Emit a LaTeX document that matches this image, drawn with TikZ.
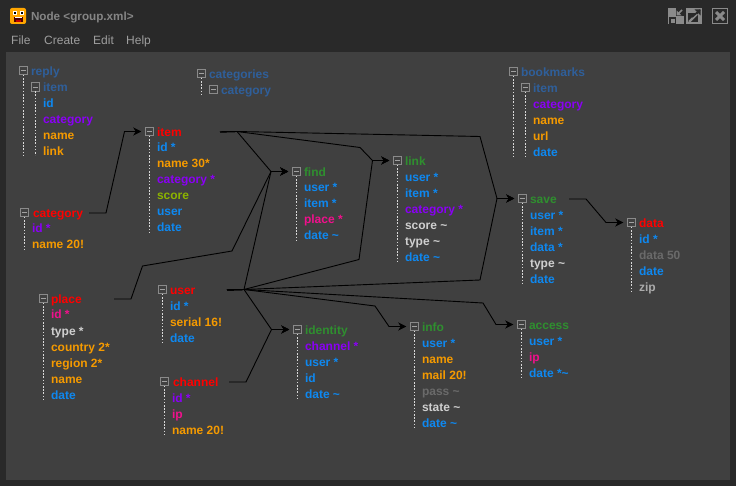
\documentclass[tikz,border=0pt]{standalone}
\usepackage{fontspec}
\setmainfont{Liberation Sans}
\usetikzlibrary{arrows.meta}
\definecolor{winbg}{HTML}{292929}
\definecolor{canvasbg}{HTML}{404040}
\definecolor{cblue}{HTML}{0E88F0}
\definecolor{cpurple}{HTML}{8A00F5}
\definecolor{corange}{HTML}{F59A00}
\definecolor{cpink}{HTML}{F0108C}
\definecolor{cwhite}{HTML}{CFCFCF}
\definecolor{cdim}{HTML}{6A6A6A}
\definecolor{czip}{HTML}{ABABAB}
\definecolor{cgreen}{HTML}{2F8F2F}
\definecolor{cred}{HTML}{FF0000}
\definecolor{csteel}{HTML}{2F5F9A}
\definecolor{clime}{HTML}{8CB400}
\definecolor{cframe}{HTML}{8A8A8A}
\newcommand{\tl}{\textasciitilde}
\tikzset{
  x=1pt,y=-1pt,
  lbl/.style={anchor=west,inner sep=0pt,outer sep=0pt,text height=9pt,text depth=0pt,font=\bfseries\fontsize{12}{14}\selectfont},
  fblue/.style={lbl,text=cblue},
  fpurple/.style={lbl,text=cpurple},
  forange/.style={lbl,text=corange},
  fpink/.style={lbl,text=cpink},
  fwhite/.style={lbl,text=cwhite},
  fdim/.style={lbl,text=cdim},
  fzip/.style={lbl,text=czip},
  flime/.style={lbl,text=clime},
  tsteel/.style={lbl,text=csteel},
  tgreen/.style={lbl,text=cgreen},
  tred/.style={lbl,text=cred},
  wide/.style={text width=#1pt,align=left},
  minusbox/.style={draw=cframe,line width=0.9pt,minimum size=8.5pt,inner sep=0pt,outer sep=0pt,
    path picture={\draw[cframe!80!white,line width=0.9pt] ([xshift=2pt]path picture bounding box.west) -- ([xshift=-2pt]path picture bounding box.east);}},
  treeline/.style={draw=white!85!black,line width=1pt,dash pattern=on 1.6pt off 1.6pt},
  conn/.style={draw=black,line width=0.9pt},
  arr/.style={conn,-{Stealth[length=8pt,width=8pt,inset=2.5pt]},shorten >=4pt},
  menu/.style={anchor=west,inner sep=0pt,text height=9pt,text depth=0pt,text=white!62!black,font=\fontsize{12}{14}\selectfont},
  wbtn/.style={minimum size=16pt,inner sep=0pt,outer sep=0pt,fill=cframe},
}
\begin{document}
\begin{tikzpicture}
\useasboundingbox (0,0) rectangle (736,486);
\fill[winbg] (0,0) rectangle (736,486);
\fill[canvasbg] (6,52) rectangle (730,480);

% title bar icon
\fill[rounded corners=2pt,fill=orange!70!yellow] (10,8) rectangle (26,24);
\fill[white] (12.5,11) rectangle (17,15.5);
\fill[white] (19.5,11) rectangle (24,15.5);
\fill[black] (14,12.5) rectangle (16,14.5);
\fill[black] (20.5,12.5) rectangle (22.5,14.5);
\fill[black!70!red] (13.5,17) rectangle (22.5,22);
\fill[white] (14.5,17) rectangle (21.5,18.5);
\fill[red!75!black] (15.5,20) rectangle (20.5,22);

\node[lbl,text=white!52!black,font=\bfseries\fontsize{11.7}{14}\selectfont] (wintitle) at (31,16.5) {Node <group.xml>};
\node[menu] (mfile) at (11,40) {File};
\node[menu] (mcreate) at (44,40) {Create};
\node[menu] (medit) at (93,40) {Edit};
\node[menu] (mhelp) at (126,40) {Help};

% window buttons
\node[wbtn] (bmin) at (676,16) {};
\fill[winbg] (669,17) rectangle (676,24);
\fill[winbg] (676,8) rectangle (684,16);
\fill[cframe] (671,19.5) rectangle (674.5,23);
\draw[cframe,line width=1.6pt] (682,10) -- (677.5,14.5);
\fill[cframe] (676.5,10.5) -- (676.5,15.5) -- (681.5,15.5) -- cycle;
\node[wbtn] (bmax) at (694,16) {};
\fill[winbg] (688,13) rectangle (698,22);
\draw[cframe,line width=2.2pt] (689,22) -- (697,14);
\draw[winbg,line width=1.6pt] (692,17) -- (700,10);
\fill[winbg] (694.5,9.5) -- (700.5,9.5) -- (700.5,15.5) -- cycle;
\node[draw=cframe,line width=1pt,minimum size=15pt,inner sep=0pt] (bclose) at (720,16) {};
\draw[cframe,line width=3pt] (716,12) -- (724,20) (724,12) -- (716,20);

% reply
\node[minusbox] (replyb) at (23.5,70.5) {};
\node[tsteel] (reply) at (31,71) {reply};
\node[minusbox] (replyitemb) at (35.5,87) {};
\node[tsteel] (replyitem) at (43,87) {item};
\node[fblue] (r1) at (43,103) {id};
\node[fpurple] (r2) at (43,119) {category};
\node[forange] (r3) at (43,135) {name};
\node[forange] (r4) at (43,151) {link};
\draw[treeline] (replyb.south) -- ++(0,81);
\draw[treeline] (replyitemb.south) -- ++(0,64);

% categories
\node[minusbox] (catsb) at (201.5,73.5) {};
\node[tsteel] (cats) at (209,74) {categories};
\node[minusbox] (catsib) at (213.5,89.5) {};
\node[tsteel] (catsi) at (221,90) {category};
\draw[treeline] (catsb.south) -- ++(0,17);

% bookmarks
\node[minusbox] (bmb) at (513.5,71.5) {};
\node[tsteel] (bm) at (521,72) {bookmarks};
\node[minusbox] (bmib) at (525.5,87.5) {};
\node[tsteel] (bmi) at (533,88) {item};
\node[fpurple] (bm1) at (533,104) {category};
\node[forange] (bm2) at (533,120) {name};
\node[forange] (bm3) at (533,136) {url};
\node[fblue] (bm4) at (533,152) {date};
\draw[treeline] (bmb.south) -- ++(0,81);
\draw[treeline] (bmib.south) -- ++(0,65);

% item
\node[minusbox] (itemb) at (149.5,131.5) {};
\node[tred,wide=63] (item) at (157,132) {item};
\node[fblue] (i1) at (157,147.5) {id *};
\node[forange] (i2) at (157,163.5) {name 30*};
\node[fpurple] (i3) at (157,179.5) {category *};
\node[flime] (i4) at (157,195.5) {score};
\node[fblue] (i5) at (157,211.5) {user};
\node[fblue] (i6) at (157,227.5) {date};
\draw[treeline] (itemb.south) -- ++(0,97);

% category
\node[minusbox] (categoryb) at (24.5,212.5) {};
\node[tred,wide=56] (category) at (33,213) {category};
\node[fpurple] (c1) at (32,228.5) {id *};
\node[forange] (c2) at (32,244.5) {name 20!};
\draw[treeline] (categoryb.south) -- ++(0,33);

% place
\node[minusbox] (placeb) at (43.5,298.5) {};
\node[tred,wide=63] (place) at (51,299) {place};
\node[fpink] (p1) at (51,314.5) {id *};
\node[fwhite] (p2) at (51,330.5) {type *};
\node[forange] (p3) at (51,346.5) {country 2*};
\node[forange] (p4) at (51,362.5) {region 2*};
\node[forange] (p5) at (51,378.5) {name};
\node[fblue] (p6) at (51,394.5) {date};
\draw[treeline] (placeb.south) -- ++(0,97);

% user
\node[minusbox] (userb) at (162.5,289.5) {};
\node[tred,wide=57] (user) at (170,290) {user};
\node[fblue] (u1) at (170,305.5) {id *};
\node[forange] (u2) at (170,321.5) {serial 16!};
\node[fblue] (u3) at (170,337.5) {date};
\draw[treeline] (userb.south) -- ++(0,49);

% channel
\node[minusbox] (channelb) at (164.5,381.5) {};
\node[tred,wide=56] (channel) at (173,382) {channel};
\node[fpurple] (ch1) at (172,397.5) {id *};
\node[fpink] (ch2) at (172,413.5) {ip};
\node[forange] (ch3) at (172,429.5) {name 20!};
\draw[treeline] (channelb.south) -- ++(0,49);

% find
\node[minusbox] (findb) at (296.5,171.5) {};
\node[tgreen] (find) at (304,172) {find};
\node[fblue] (f1) at (304,187.5) {user *};
\node[fblue] (f2) at (304,203.5) {item *};
\node[fpink] (f3) at (304,219.5) {place *};
\node[fblue] (f4) at (304,235.5) {date \tl};
\draw[treeline] (findb.south) -- ++(0,65);

% link
\node[minusbox] (linkb) at (397.5,160.5) {};
\node[tgreen] (link) at (405,161) {link};
\node[fblue] (l1) at (405,177) {user *};
\node[fblue] (l2) at (405,193) {item *};
\node[fpurple] (l3) at (405,209) {category *};
\node[fwhite] (l4) at (405,225) {score \tl};
\node[fwhite] (l5) at (405,241) {type \tl};
\node[fblue] (l6) at (405,257) {date \tl};
\draw[treeline] (linkb.south) -- ++(0,97);

% save
\node[minusbox] (saveb) at (522.5,198.5) {};
\node[tgreen,wide=39] (save) at (530,199) {save};
\node[fblue] (s1) at (530,215) {user *};
\node[fblue] (s2) at (530,231) {item *};
\node[fblue] (s3) at (530,247) {data *};
\node[fwhite] (s4) at (530,263) {type \tl};
\node[fblue] (s5) at (530,279) {date};
\draw[treeline] (saveb.south) -- ++(0,81);

% data
\node[minusbox] (datab) at (631.5,222.5) {};
\node[tred] (data) at (639,223) {data};
\node[fblue] (d1) at (639,239) {id *};
\node[fdim] (d2) at (639,255) {data 50};
\node[fblue] (d3) at (639,271) {date};
\node[fzip] (d4) at (639,287) {zip};
\draw[treeline] (datab.south) -- ++(0,65);

% identity
\node[minusbox] (identityb) at (297.5,329.5) {};
\node[tgreen] (identity) at (305,330) {identity};
\node[fpurple] (id1) at (305,346) {channel *};
\node[fblue] (id2) at (305,362) {user *};
\node[fblue] (id3) at (305,378) {id};
\node[fblue] (id4) at (305,394) {date \tl};
\draw[treeline] (identityb.south) -- ++(0,65);

% info
\node[minusbox] (infob) at (414.5,326.5) {};
\node[tgreen] (info) at (422,327) {info};
\node[fblue] (n1) at (422,343) {user *};
\node[forange] (n2) at (422,359) {name};
\node[forange] (n3) at (422,375) {mail 20!};
\node[fdim] (n4) at (422,391) {pass \tl};
\node[fwhite] (n5) at (422,407) {state \tl};
\node[fblue] (n6) at (422,423) {date \tl};
\draw[treeline] (infob.south) -- ++(0,97);

% access
\node[minusbox] (accessb) at (521.5,324.5) {};
\node[tgreen] (access) at (529,325) {access};
\node[fblue] (a1) at (529,341) {user *};
\node[fpink] (a2) at (529,357) {ip};
\node[fblue] (a3) at (529,373) {date *\tl};
\draw[treeline] (accessb.south) -- ++(0,49);

% junctions
\coordinate (jfind) at (271,171.5);
\coordinate (jlink) at (372.5,160.5);
\coordinate (jsave) at (497,198.5);
\coordinate (jidentity) at (271.5,329.5);
\coordinate (jitem) at (237,131.5);
\coordinate (juser) at (244,289.5);

% connectors
\draw[arr] (category.east) -- (106,213) -- (124.5,131.5) -- (itemb.west);
\draw[arr] (item.east) -- (jitem) -- (jfind) -- (findb.west);
\draw[arr] (item.east) -- (jitem) -- (360,147.5) -- (jlink) -- (linkb.west);
\draw[arr] (item.east) -- (jitem) -- (480,136.5) -- (jsave) -- (saveb.west);
\draw[arr] (place.east) -- (131,299) -- (142.5,266) -- (232,251) -- (jfind) -- (findb.west);
\draw[arr] (user.east) -- (juser) -- (jfind) -- (findb.west);
\draw[arr] (user.east) -- (juser) -- (359,259.5) -- (jlink) -- (linkb.west);
\draw[arr] (user.east) -- (juser) -- (480,280) -- (jsave) -- (saveb.west);
\draw[arr] (user.east) -- (juser) -- (jidentity) -- (identityb.west);
\draw[arr] (user.east) -- (juser) -- (375,306) -- (389,326.5) -- (infob.west);
\draw[arr] (user.east) -- (juser) -- (483,303) -- (496,324.5) -- (accessb.west);
\draw[arr] (channel.east) -- (246,382) -- (jidentity) -- (identityb.west);
\draw[arr] (save.east) -- (586,199) -- (606,222.5) -- (datab.west);
\end{tikzpicture}
\end{document}
